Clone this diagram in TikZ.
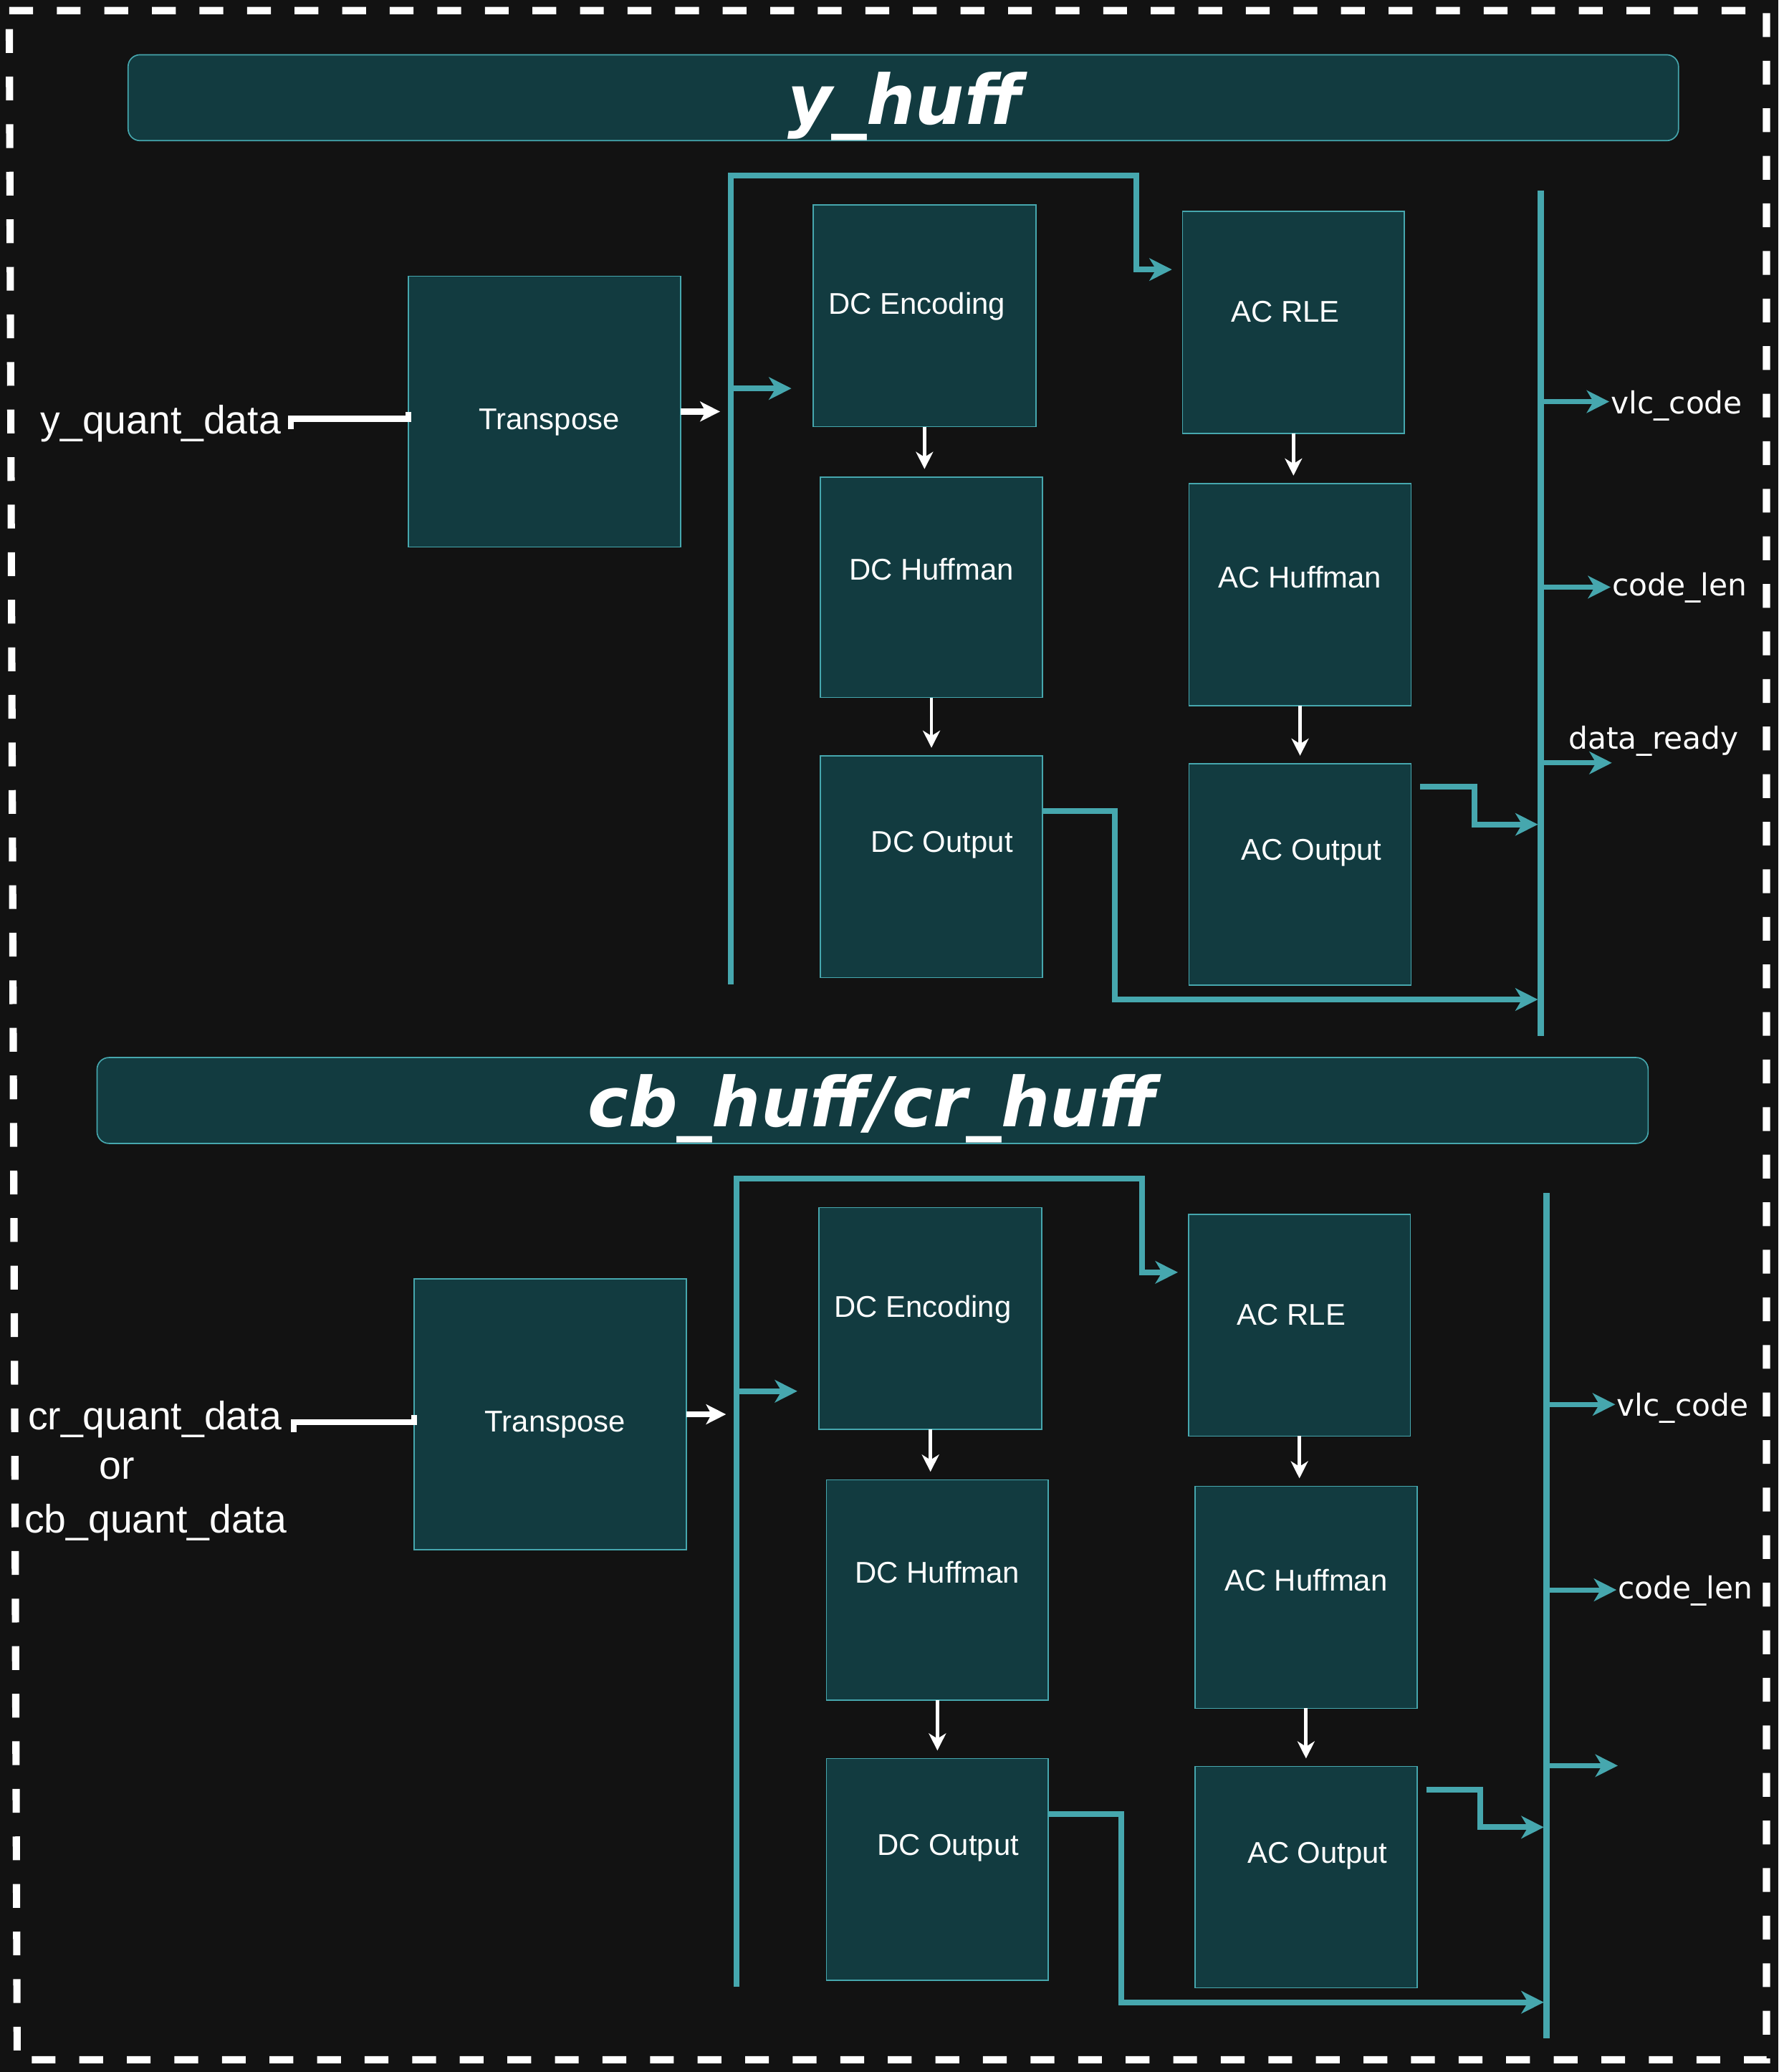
\documentclass[tikz,border=0pt]{standalone}
\usepackage{fontspec}
\setmainfont{Liberation Sans}
\newfontfamily\djv{DejaVu Sans}
\usetikzlibrary{arrows.meta}
\definecolor{bgc}{HTML}{121212}
\definecolor{boxc}{HTML}{123B40}
\definecolor{tealc}{HTML}{46A7AE}
\tikzset{
 blk/.style={draw=tealc, line width=0.9pt, fill=boxc, anchor=north west, inner sep=0pt, outer sep=0pt},
 txt/.style={text=white, font=\fontsize{22.7}{27}\selectfont, inner sep=0pt, anchor=base},
 lbl/.style={text=white, font=\djv\fontsize{23}{28}\selectfont, inner sep=0pt, anchor=base west},
 inlbl/.style={text=white, font=\fontsize{30}{36}\selectfont, inner sep=0pt, anchor=base west},
 ttl/.style={text=white, font=\djv\bfseries\itshape\fontsize{52}{60}\selectfont, inner sep=0pt, anchor=base},
 titlebar/.style={draw=tealc, line width=0.9pt, fill=boxc, rounded corners=9pt, anchor=north west, inner sep=0pt},
 tl/.style={draw=tealc, line width=4.3pt},
 tla/.style={tl, -{Stealth[length=17pt,width=17pt,inset=5pt]}},
 wl/.style={draw=white, line width=4.5pt},
 wla/.style={draw=white, line width=4.5pt, -{Stealth[length=15pt,width=15pt,inset=4pt]}},
 wda/.style={draw=white, line width=2.6pt, -{Stealth[length=13pt,width=13pt,inset=4pt]}},
}
\newcommand\hsec[1]{%
 \node[blk, minimum width=206pt, minimum height=205pt] (#1tr) at (309,209) {};
 \node[txt] (#1trt) at (415.7,325) {Transpose};
 \node[blk, minimum width=168.5pt, minimum height=168pt] (#1dce) at (615.5,155) {};
 \node[txt] (#1dcet) at (694,238) {DC Encoding};
 \node[blk, minimum width=168pt, minimum height=167pt] (#1dch) at (621,361) {};
 \node[txt] (#1dcht) at (705,439) {DC Huffman};
 \node[blk, minimum width=168pt, minimum height=168pt] (#1dco) at (621,572) {};
 \node[txt] (#1dcot) at (713,645) {DC Output};
 \node[blk, minimum width=168pt, minimum height=168pt] (#1acr) at (895,160) {};
 \node[txt] (#1acrt) at (973,244) {AC RLE};
 \node[blk, minimum width=168pt, minimum height=168pt] (#1ach) at (900,366) {};
 \node[txt] (#1acht) at (984,445) {AC Huffman};
 \node[blk, minimum width=168pt, minimum height=167.5pt] (#1aco) at (900,578) {};
 \node[txt] (#1acot) at (992.7,651) {AC Output};
 \coordinate (#1lbt) at (553,133);
 \coordinate (#1lbb) at (553,745);
 \coordinate (#1rbt) at (1166,144);
 \coordinate (#1rbb) at (1166,784);
 \coordinate (#1acri) at (887,204);
 \coordinate (#1dcei) at (599,294);
 \draw[tl, line width=4.8pt] (#1rbt) -- (#1rbb);
 \draw[tla] (#1lbb) -- (#1lbt) -| (860,204) -- (#1acri);
 \draw[tla] (#1lbt |- #1dcei) -- (#1dcei);
 \draw[wla] (#1tr.east) -- ++(30,0);
 \draw[wda, shorten >=6pt] (#1dce.south) -- (#1dce.south |- #1dch.north);
 \draw[wda, shorten >=6pt] (#1dch.south) -- (#1dch.south |- #1dco.north);
 \draw[wda, shorten >=6pt] (#1acr.south) -- (#1acr.south |- #1ach.north);
 \draw[wda, shorten >=6pt] (#1ach.south) -- (#1ach.south |- #1aco.north);
 \draw[tla, shorten >=2pt] ([yshift=-42pt]#1dco.north east) -| (844,756.5) -- (#1rbt |- 0,756.5);
 \draw[tla, shorten >=2pt] ([xshift=7pt,yshift=-17.5pt]#1aco.north east) -| (1116,624) -- (#1rbt |- 0,624);
 \coordinate (#1o1) at (1218,304);
 \coordinate (#1o2) at (1219,444.4);
 \coordinate (#1o3) at (1220,577.4);
 \node[lbl] (#1vlc) at (1219,313) {vlc\_code};
 \node[lbl] (#1cl) at (1220,451) {code\_len};
 \draw[tla, line width=3.8pt] (#1rbt |- #1o1) -- (#1o1);
 \draw[tla, line width=3.8pt] (#1rbt |- #1o2) -- (#1o2);
 \draw[tla, line width=3.8pt] (#1rbt |- #1o3) -- (#1o3);
}
\begin{document}
\begin{tikzpicture}[x=1pt,y=-1pt]
\useasboundingbox (0,0) rectangle (1346,1568.3);
\fill[bgc] (0,0) rectangle (1346,1568.3);
% outer dashed frame
\draw[white, line width=5.5pt, dash pattern=on 18pt off 18pt] (7,8) -- (1337,8) -- (1337,1559) -- (13,1559) -- cycle;
% titles
\node[titlebar, minimum width=1173.5pt, minimum height=65pt] (bar1) at (96.5,41) {};
\node[ttl] (t1) at (684.7,94) {y\_huff};
\node[titlebar, minimum width=1174pt, minimum height=65pt] (bar2) at (73,800) {};
\node[ttl] (t2) at (660,853) {cb\_huff/cr\_huff};
% upper section
\hsec{u}
\node[lbl] (udr) at (1187,567) {data\_ready};
\node[inlbl] (yq) at (30.5,328.6) {y\_quant\_data};
\coordinate (yqe) at (220,325);
\draw[wl] (yqe) -- (220,317) -- (utr.west |- 0,317) -- (utr.west |- 0,312);
% lower section
\begin{scope}[shift={(4.5,759)}]
\hsec{b}
\end{scope}
\node[inlbl] (crq) at (21,1082) {cr\_quant\_data};
\node[inlbl] (orl) at (75,1119.3) {or};
\node[inlbl] (cbq) at (18.3,1160) {cb\_quant\_data};
\coordinate (crqe) at (222.5,1084);
\draw[wl] (crqe) -- (222.5,1076.5) -- (btr.west |- 0,1076.5) -- (btr.west |- 0,1071);
\end{tikzpicture}
\end{document}
